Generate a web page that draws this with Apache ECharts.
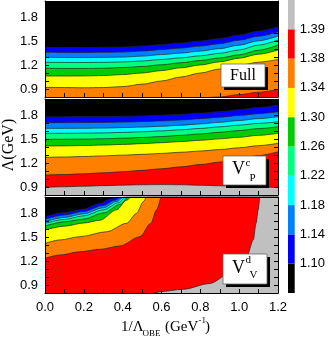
<!DOCTYPE html>
<html>
<head>
<meta charset="utf-8">
<script src="https://cdn.jsdelivr.net/npm/echarts@6/dist/echarts.min.js"></script>
<style>
  html, body { margin: 0; padding: 0; background: #fff; }
  #chart { width: 328px; height: 338px; }
</style>
</head>
<body>
<div id="chart"></div>
<script>
// contour levels (colour bar tick labels) and band colours, bottom to top of the bar
const levels = ['1.10', '1.14', '1.18', '1.22', '1.26', '1.30', '1.34', '1.38', '1.39'];
const bandColors = ['#000000', '#0000ff', '#0080ff', '#00ffff', '#00ff80', '#00cc00', '#ffff00', '#ff8000', '#ff0000', '#c0c0c0'];

// x positions (1/Lambda_OBE) where the Full and V^c_P contours were read
const xGrid = [0, 0.1, 0.2, 0.3, 0.4, 0.5, 0.6, 0.7, 0.8, 0.9, 1.0, 1.1, 1.2];

// Full: Lambda of each contour line
const full110 = [1.421, 1.419, 1.419, 1.421, 1.425, 1.437, 1.456, 1.475, 1.500, 1.531, 1.575, 1.625, 1.679];
const full114 = [1.359, 1.357, 1.356, 1.358, 1.362, 1.374, 1.392, 1.411, 1.436, 1.467, 1.510, 1.560, 1.616];
const full118 = [1.296, 1.294, 1.293, 1.295, 1.299, 1.311, 1.330, 1.349, 1.374, 1.405, 1.448, 1.503, 1.562];
const full122 = [1.234, 1.232, 1.231, 1.233, 1.238, 1.250, 1.269, 1.289, 1.315, 1.346, 1.388, 1.449, 1.512];
const full126 = [1.159, 1.157, 1.157, 1.160, 1.168, 1.182, 1.203, 1.228, 1.256, 1.288, 1.327, 1.385, 1.450];
const full130 = [1.062, 1.062, 1.063, 1.068, 1.080, 1.100, 1.130, 1.165, 1.200, 1.240, 1.285, 1.335, 1.388];
const full134 = [0.921, 0.918, 0.915, 0.918, 0.930, 0.960, 1.000, 1.050, 1.100, 1.150, 1.195, 1.235, 1.270];
const full138 = [0.78, 0.78, 0.78, 0.78, 0.78, 0.78, 0.78, 0.78, 0.79, 0.80, 0.83, 0.86, 0.895];

// V^c_P
const vcp110 = [1.779, 1.779, 1.780, 1.781, 1.784, 1.789, 1.797, 1.808, 1.823, 1.842, 1.866, 1.894, 1.925];
const vcp114 = [1.704, 1.704, 1.705, 1.707, 1.711, 1.717, 1.726, 1.738, 1.754, 1.773, 1.795, 1.817, 1.840];
const vcp118 = [1.633, 1.633, 1.634, 1.637, 1.642, 1.649, 1.659, 1.672, 1.689, 1.709, 1.731, 1.755, 1.779];
const vcp122 = [1.571, 1.571, 1.573, 1.576, 1.582, 1.590, 1.601, 1.615, 1.632, 1.652, 1.673, 1.695, 1.716];
const vcp126 = [1.496, 1.497, 1.499, 1.503, 1.510, 1.519, 1.531, 1.546, 1.564, 1.584, 1.606, 1.630, 1.654];
const vcp130 = [1.412, 1.414, 1.418, 1.424, 1.432, 1.442, 1.454, 1.468, 1.484, 1.502, 1.522, 1.546, 1.571];
const vcp134 = [1.271, 1.275, 1.281, 1.289, 1.298, 1.308, 1.320, 1.334, 1.350, 1.368, 1.390, 1.417, 1.446];
const vcp138 = [1.050, 1.056, 1.065, 1.077, 1.091, 1.108, 1.128, 1.152, 1.180, 1.212, 1.250, 1.293, 1.340];
const vcp139 = [0.896, 0.903, 0.910, 0.917, 0.923, 0.928, 0.930, 0.928, 0.922, 0.915, 0.907, 0.900, 0.893];

// V^d_V: contour lines as [x, Lambda] points (they run into the top edge)
const vdv110 = [[0, 1.754], [0.1, 1.805], [0.2, 1.85], [0.283, 1.921], [0.335, 1.975], [0.375, 2.0], [1.2, 2.0]];
const vdv114 = [[0, 1.721], [0.1, 1.775], [0.2, 1.82], [0.3, 1.895], [0.36, 1.96], [0.395, 2.0], [1.2, 2.0]];
const vdv118 = [[0, 1.691], [0.1, 1.745], [0.2, 1.79], [0.3, 1.865], [0.37, 1.945], [0.407, 2.0], [1.2, 2.0]];
const vdv122 = [[0, 1.671], [0.1, 1.72], [0.2, 1.765], [0.3, 1.84], [0.38, 1.93], [0.417, 2.0], [1.2, 2.0]];
const vdv126 = [[0, 1.638], [0.1, 1.69], [0.2, 1.725], [0.3, 1.80], [0.39, 1.91], [0.429, 2.0], [1.2, 2.0]];
const vdv130 = [[0, 1.588], [0.1, 1.635], [0.2, 1.675], [0.283, 1.71], [0.369, 1.84], [0.42, 1.96], [0.446, 2.0], [1.2, 2.0]];
const vdv134 = [[0, 1.42], [0.077, 1.463], [0.18, 1.504], [0.318, 1.566], [0.42, 1.671], [0.472, 1.796], [0.506, 1.94], [0.524, 2.0], [1.2, 2.0]];
const vdv138 = [[0, 1.234], [0.077, 1.275], [0.18, 1.316], [0.283, 1.346], [0.386, 1.388], [0.489, 1.504], [0.545, 1.671], [0.575, 1.84], [0.6, 2.0], [1.2, 2.0]];
const vdv139 = [[0, 0.78], [0.55, 0.78], [0.57, 0.8], [0.59, 0.816], [0.713, 0.846], [0.85, 0.92], [0.953, 1.046], [1.0, 1.14], [1.039, 1.254], [1.073, 1.463], [1.087, 1.671], [1.098, 1.838], [1.107, 2.0], [1.2, 2.0]];

const panels = [
  { name: 'Full', curves: [full110, full114, full118, full122, full126, full130, full134, full138] },
  { name: 'Vcp', curves: [vcp110, vcp114, vcp118, vcp122, vcp126, vcp130, vcp134, vcp138, vcp139] },
  { name: 'Vdv', curves: [vdv110, vdv114, vdv118, vdv122, vdv126, vdv130, vdv134, vdv138, vdv139] },
];

const panelTops = [1, 99, 197];
const sansFont = 'Liberation Sans, Arial, sans-serif';
const serifFont = 'Liberation Serif, Times New Roman, serif';

const chart = echarts.init(document.getElementById('chart'), null, { renderer: 'canvas' });

const grid = [];
const xAxis = [];
const yAxis = [];
const series = [];

panelTops.forEach((top, i) => {
  grid.push({ left: 45, width: 233, top: top, height: 96, show: true, backgroundColor: '#000', borderWidth: 0 });
});
// bottom x axes
panelTops.forEach((top, i) => {
  xAxis.push({
    gridIndex: i, type: 'value', min: 0, max: 1.2, interval: 0.1, z: 10,
    axisLine: { show: true, onZero: false, lineStyle: { color: '#000', width: 1 } },
    axisTick: { show: true, inside: true, length: 4, lineStyle: { color: '#000' } },
    axisLabel: {
      show: i === 2, color: '#000', fontSize: 13, fontFamily: sansFont, margin: 8,
      formatter: (v) => (Math.round(v * 10) % 2 === 0 ? v.toFixed(1) : ''),
    },
    splitLine: { show: false },
  });
});
// top x axes (frame only)
panelTops.forEach((top, i) => {
  xAxis.push({
    gridIndex: i, type: 'value', position: 'top', min: 0, max: 1.2, z: 10,
    axisLine: { show: true, onZero: false, lineStyle: { color: '#000', width: 1 } },
    axisTick: { show: false }, axisLabel: { show: false }, splitLine: { show: false },
  });
});
// left y axes
panelTops.forEach((top, i) => {
  yAxis.push({
    gridIndex: i, type: 'value', min: 0.8, max: 2.0, interval: 0.1, z: 10,
    axisLine: { show: true, onZero: false, lineStyle: { color: '#000', width: 1 } },
    axisTick: { show: true, inside: true, length: 4, lineStyle: { color: '#000' } },
    axisLabel: {
      color: '#000', fontSize: 13, fontFamily: sansFont, margin: 7,
      formatter: (v) => (Math.round(v * 10) % 3 === 0 ? v.toFixed(1) : ''),
    },
    splitLine: { show: false },
  });
});
// right y axes
panelTops.forEach((top, i) => {
  yAxis.push({
    gridIndex: i, type: 'value', position: 'right', min: 0.8, max: 2.0, interval: 0.1, z: 10,
    axisLine: { show: true, onZero: false, lineStyle: { color: '#000', width: 1 } },
    axisTick: { show: true, inside: true, length: 4, lineStyle: { color: '#000' } },
    axisLabel: { show: false }, splitLine: { show: false },
  });
});

// contour bands: fill below each contour line, painted from the lowest level upward
panels.forEach((p, i) => {
  p.curves.forEach((curve, k) => {
    const data = Array.isArray(curve[0]) ? curve : curve.map((y, j) => [xGrid[j], y]);
    series.push({
      type: 'line',
      name: p.name + ' ' + levels[k],
      xAxisIndex: i,
      yAxisIndex: i,
      data: data,
      symbol: 'none',
      smooth: 0.3,
      smoothMonotone: 'x',
      clip: true,
      silent: true,
      lineStyle: { color: '#222', width: 0.7 },
      areaStyle: { color: bandColors[k + 1], opacity: 1, origin: 'start' },
    });
  });
});

// colour bar
grid.push({ left: 288, width: 10, top: 0, height: 293 });
xAxis.push({ gridIndex: 3, type: 'category', data: [''], show: false });
yAxis.push({
  gridIndex: 3, type: 'value', position: 'right', min: 0, max: 10, interval: 1,
  axisLine: { show: false }, axisTick: { show: false }, splitLine: { show: false },
  axisLabel: {
    color: '#000', fontSize: 13, fontFamily: sansFont, margin: 5,
    formatter: (v) => (v >= 1 && v <= 9 ? levels[v - 1] : ''),
  },
});
bandColors.forEach((c, k) => {
  series.push({
    type: 'bar', stack: 'cb', xAxisIndex: 6, yAxisIndex: 6, data: [1],
    barWidth: '100%', silent: true, itemStyle: { color: c },
  });
});

function labelBox(x, y, w, h, children) {
  return {
    type: 'group',
    z: 100,
    children: [
      { type: 'rect', z: 100, shape: { x: x + 3, y: y + 3, width: w, height: h }, style: { fill: '#000' } },
      { type: 'rect', z: 101, shape: { x: x, y: y, width: w, height: h }, style: { fill: '#fff', stroke: '#666', lineWidth: 0.8 } },
    ].concat(children),
  };
}
function txt(x, y, s, size, align) {
  return {
    type: 'text', x: x, y: y, z: 102,
    style: { text: s, fill: '#000', font: size + 'px ' + serifFont, align: align || 'left', verticalAlign: 'middle' },
  };
}

const graphic = [
  labelBox(221, 64, 44, 23, [txt(243, 75.5, 'Full', 16, 'center')]),
  labelBox(223, 156, 43, 29, [txt(232, 169, 'V', 18), txt(245.5, 163, 'c', 11), txt(249.5, 178.5, 'P', 11)]),
  labelBox(223, 254, 44, 30, [txt(232, 268, 'V', 18), txt(245.5, 260, 'd', 11), txt(249.5, 275, 'V', 11)]),
  {
    type: 'text', x: 9, y: 145, rotation: Math.PI / 2,
    style: { text: 'Λ(GeV)', fill: '#000', font: '16px ' + serifFont, align: 'center', verticalAlign: 'middle' },
  },
  txt(121, 327, '1/Λ', 15),
  txt(142.5, 333.5, 'OBE', 9),
  txt(165, 327, '(GeV', 15),
  txt(198.5, 320.5, '-1', 9),
  txt(205, 327, ')', 15),
];

chart.setOption({
  animation: false,
  grid: grid,
  xAxis: xAxis,
  yAxis: yAxis,
  series: series,
  graphic: graphic,
});
</script>
</body>
</html>
